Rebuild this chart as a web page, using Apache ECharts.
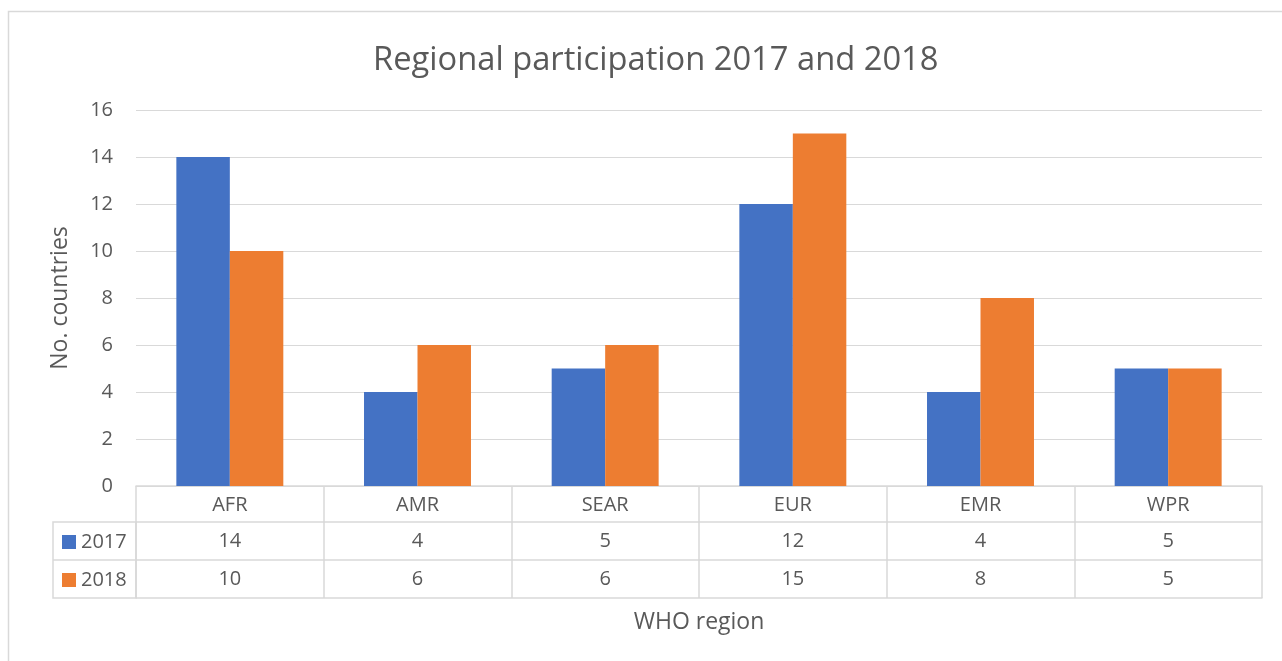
<!DOCTYPE html>
<html><head><meta charset="utf-8">
<script src="https://cdn.jsdelivr.net/npm/echarts@6/dist/echarts.min.js"></script>
<style>html,body{margin:0;padding:0;background:#fff}#c{width:1282px;height:661px}</style>
</head><body><div id="c"></div>
<script>
const categories = ['AFR','AMR','SEAR','EUR','EMR','WPR'];
const values2017 = [14,4,5,12,4,5];
const values2018 = [10,6,6,15,8,5];
const yTicks = [0,2,4,6,8,10,12,14,16];
const seriesNames = ['2017','2018'];

const FONT = '"Open Sans", sans-serif';
const TXT = '#595959';
const LINE = '#d9d9d9';
const chart = echarts.init(document.getElementById('c'), null, {renderer:'canvas'});

function tableAxis(offset, vals, showTick){
  return {
    type:'category', data:categories, position:'bottom', gridIndex:0, offset:offset,
    axisLine:{show:true, lineStyle:{color:LINE, width:1.5}},
    axisTick:{show:showTick, length:112, lineStyle:{color:LINE, width:1.5}},
    axisLabel:{show: !!vals, margin:9, color:TXT, fontFamily:FONT, fontSize:20, lineHeight:20,
      formatter: vals ? ((v,i)=> String(vals[i])) : undefined},
    splitLine:{show:false}
  };
}

const option = {
  animation:false,
  title:{text:'Regional participation 2017 and 2018', left:368, top:39,
    textStyle:{fontFamily:FONT, fontSize:32.7, fontWeight:'normal', color:TXT}},
  grid:{left:136, right:20, top:110, bottom:175},
  legend:{orient:'vertical', left:62, top:532, padding:0, itemWidth:14, itemHeight:14, itemGap:18,
    icon:'rect', data:seriesNames,
    textStyle:{fontFamily:FONT, fontSize:20, lineHeight:20, color:TXT}},
  xAxis:[
    tableAxis(0, categories, true),
    tableAxis(36, values2017, false),
    tableAxis(74, values2018, false),
    Object.assign(tableAxis(112, null, false), {
      name:'WHO region', nameLocation:'middle', nameGap:13,
      nameTextStyle:{fontFamily:FONT, fontSize:23, color:TXT, verticalAlign:'top'}})
  ],
  yAxis:{type:'value', min:yTicks[0], max:yTicks[yTicks.length-1], interval:2,
    name:'No. countries', nameLocation:'middle', nameGap:64,
    nameTextStyle:{fontFamily:FONT, fontSize:23, color:TXT},
    axisLine:{show:false}, axisTick:{show:false},
    axisLabel:{color:TXT, fontFamily:FONT, fontSize:20, margin:23},
    splitLine:{lineStyle:{color:LINE, width:1.2}}},
  series:[
    {name:seriesNames[0], type:'bar', data:values2017, xAxisIndex:0, barGap:'0%', barCategoryGap:'43%',
      itemStyle:{color:'#4472C4'}},
    {name:seriesNames[1], type:'bar', data:values2018, xAxisIndex:0, barGap:'0%', barCategoryGap:'43%',
      itemStyle:{color:'#ED7D31'}}
  ],
  graphic:[
    {type:'rect', shape:{x:8.5, y:11.5, width:1400, height:800}, style:{fill:'none', stroke:LINE, lineWidth:1.5}, silent:true, z:-10},
    {type:'rect', shape:{x:53, y:522, width:83, height:76}, style:{fill:'none', stroke:LINE, lineWidth:1.5}, silent:true},
    {type:'line', shape:{x1:53, y1:560, x2:136, y2:560}, style:{stroke:LINE, lineWidth:1.5}, silent:true}
  ]
};
chart.setOption(option);
</script></body></html>
